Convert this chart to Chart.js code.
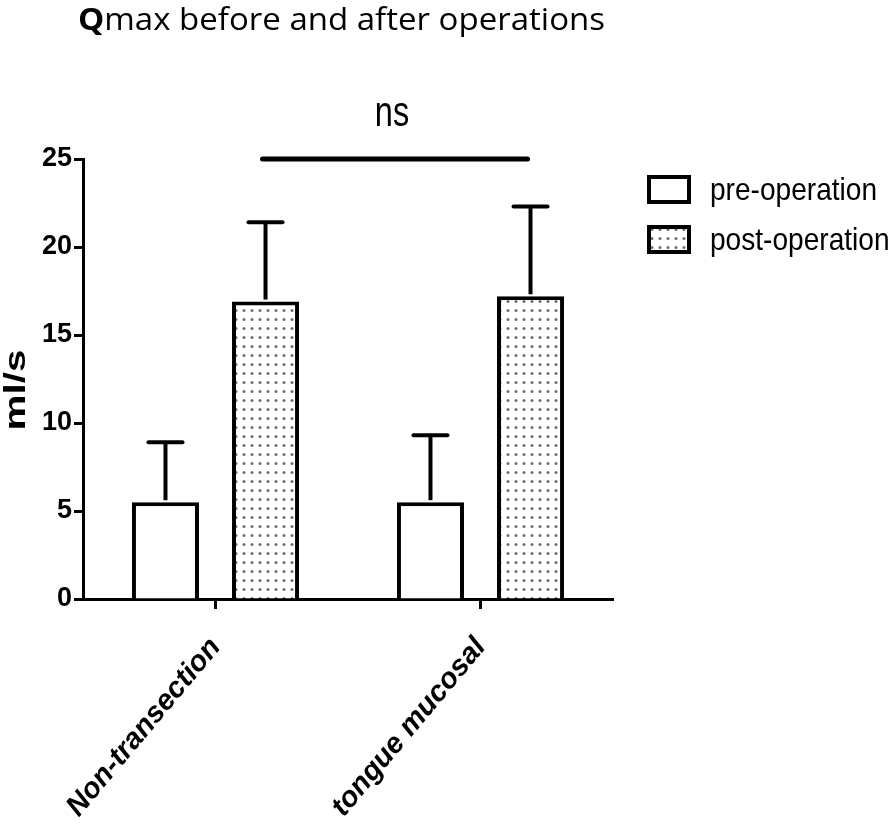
<!DOCTYPE html>
<html>
<head>
<meta charset="utf-8">
<script src="https://cdn.jsdelivr.net/npm/chart.js@4.4.1/dist/chart.umd.min.js"></script>
<style>
  html, body { margin: 0; padding: 0; background: #fff; }
</style>
</head>
<body>
<canvas id="chartQ" width="893" height="828"></canvas>
<script>
// data
const categories = ['Non-transection', 'tongue mucosal'];
const seriesNames = ['pre-operation', 'post-operation'];
const preOp = [5.5, 5.5];
const preOpErr = [3.4, 3.8];
const postOp = [16.9, 17.2];
const postOpErr = [4.5, 5.1];
const yTickValues = [0, 5, 10, 15, 20, 25];
const sigLabel = 'ns';

const canvas = document.getElementById('chartQ');
const ctx = canvas.getContext('2d');

// dotted fill like the original
function dotPattern() {
  const p = document.createElement('canvas');
  p.width = 8; p.height = 9;
  const c = p.getContext('2d');
  c.fillStyle = '#fff';
  c.fillRect(0, 0, 8, 9);
  c.fillStyle = '#6e6e6e';
  c.beginPath();
  c.arc(4, 4.5, 1.5, 0, Math.PI * 2);
  c.fill();
  return ctx.createPattern(p, 'repeat');
}
const dots = dotPattern();

// stretched text helper (original text is a bit squashed)
function stretchText(c, txt, x, y, font, sx, sy, align, rot) {
  c.save();
  c.translate(x, y);
  if (rot) c.rotate(rot);
  c.scale(sx, sy);
  c.font = font;
  c.fillStyle = '#000';
  c.textAlign = align || 'left';
  c.textBaseline = 'alphabetic';
  c.fillText(txt, 0, 0);
  c.restore();
}

const extras = {
  id: 'extras',
  afterDatasetsDraw(chart) {
    const c = chart.ctx;
    const y = chart.scales.y;
    const errs = [preOpErr, postOpErr];
    c.save();
    c.strokeStyle = '#000';
    c.lineWidth = 4;
    chart.data.datasets.forEach((ds, di) => {
      chart.getDatasetMeta(di).data.forEach((bar, i) => {
        const top = y.getPixelForValue(ds.data[i] + errs[di][i]);
        const base = y.getPixelForValue(ds.data[i]);
        c.lineCap = 'butt';
        c.beginPath();
        c.moveTo(bar.x, base - 2);
        c.lineTo(bar.x, top);
        c.stroke();
        c.lineCap = 'round';
        c.beginPath();
        c.moveTo(bar.x - 17, top);
        c.lineTo(bar.x + 17, top);
        c.stroke();
      });
    });

    // significance bar between the post-operation bars
    const post = chart.getDatasetMeta(1).data;
    const ly = y.getPixelForValue(25);
    c.lineWidth = 5;
    c.lineCap = 'round';
    c.beginPath();
    c.moveTo(post[0].x - 3, ly);
    c.lineTo(post[1].x - 3, ly);
    c.stroke();
    stretchText(c, sigLabel, (post[0].x + post[1].x) / 2 - 6, 126, '31px "Liberation Sans"', 1.05, 1.4, 'center');

    // y axis title
    stretchText(c, 'ml/s', 25, 390, 'bold 30px "Liberation Sans"', 1.35, 1, 'center', -Math.PI / 2);

    // title: bold Q, rest medium, stretched to the original width
    c.save();
    c.fillStyle = '#000';
    c.textBaseline = 'alphabetic';
    c.textAlign = 'left';
    c.font = 'bold 31px "Open Sans"';
    const qw = c.measureText('Q').width;
    c.font = '500 31px "Open Sans"';
    const rw = c.measureText('max before and after operations').width;
    const sx = 527 / (qw + rw);
    c.translate(78, 30);
    c.scale(sx, 1);
    c.font = 'bold 31px "Open Sans"';
    c.fillText('Q', 0, 0);
    c.font = '500 31px "Open Sans"';
    c.fillText('max before and after operations', qw, 0);
    c.restore();

    // legend
    const boxes = [[649, 177], [649, 227]];
    chart.data.datasets.forEach((ds, di) => {
      const [bx, by] = boxes[di];
      c.fillStyle = ds.backgroundColor;
      c.fillRect(bx, by, 40, 25);
      c.lineWidth = 4;
      c.strokeStyle = '#000';
      c.strokeRect(bx, by, 40, 25);
      stretchText(c, ds.label, 710, by + 23, '27px "Liberation Sans"', 1.04, 1.15, 'left');
    });
    c.restore();
  }
};

new Chart(canvas, {
  type: 'bar',
  data: {
    labels: categories,
    datasets: [{
      label: seriesNames[0],
      data: preOp,
      backgroundColor: '#fff',
      borderColor: '#000',
      borderWidth: 4,
      categoryPercentage: 0.755,
      barPercentage: 0.67
    }, {
      label: seriesNames[1],
      data: postOp,
      backgroundColor: dots,
      borderColor: '#000',
      borderWidth: 4,
      categoryPercentage: 0.755,
      barPercentage: 0.67
    }]
  },
  options: {
    responsive: false,
    animation: false,
    devicePixelRatio: 1,
    layout: { padding: { top: 159, right: 280, left: 0, bottom: 0 } },
    plugins: {
      legend: { display: false },
      tooltip: { enabled: false },
      title: { display: false }
    },
    scales: {
      x: {
        offset: true,
        grid: { offset: false, drawOnChartArea: false, color: '#000', tickLength: 10, tickWidth: 3 },
        border: { color: '#000', width: 3 },
        ticks: {
          color: '#000',
          autoSkip: false,
          minRotation: 50,
          maxRotation: 50,
          padding: 22,
          font: { family: 'Liberation Sans', size: 29, weight: 'bold', style: 'italic' }
        },
        afterFit(scale) { scale.height = 229; }
      },
      y: {
        min: 0,
        max: 25,
        afterBuildTicks(scale) { scale.ticks = yTickValues.map(v => ({ value: v })); },
        grid: { drawOnChartArea: false, color: '#000', tickLength: 9, tickWidth: 3 },
        border: { color: '#000', width: 3 },
        ticks: {
          color: '#000',
          padding: 2,
          font: { family: 'Liberation Sans', size: 27, weight: 'bold' }
        },
        afterFit(scale) { scale.width = 83; }
      }
    }
  },
  plugins: [extras]
});
</script>
</body>
</html>
